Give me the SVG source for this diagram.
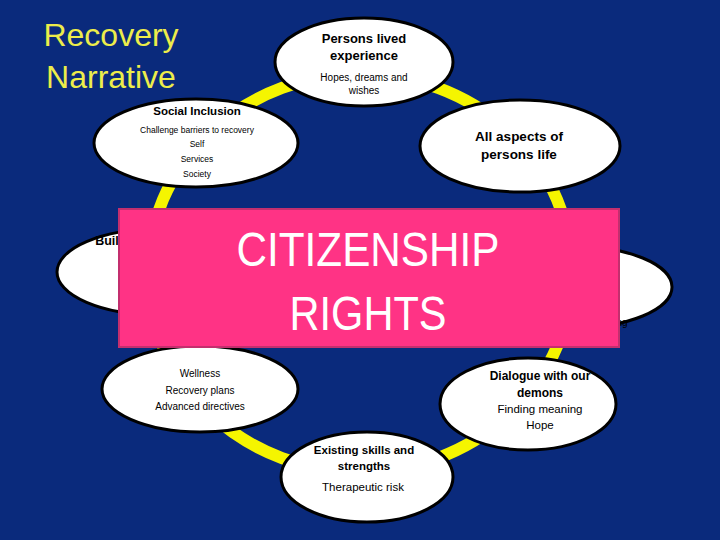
<svg xmlns="http://www.w3.org/2000/svg" width="720" height="540" viewBox="0 0 720 540">
<style>
.node{fill:#fff;stroke:#000;stroke-width:3}
text{font-family:"Liberation Sans",Arial,sans-serif;fill:#000;text-anchor:middle}
.b{font-weight:bold}
.title{fill:#EDED4A;font-size:32px}
.big{fill:#fff;font-size:49px}
</style>
<rect width="720" height="540" fill="#0A2A7C"/>
<g id="title">
<text class="title" x="111" y="46">Recovery</text>
<text class="title" x="111" y="88">Narrative</text>
</g>
<g id="connectors">
<ellipse cx="360" cy="273" rx="212" ry="199" fill="none" stroke="#F5F500" stroke-width="12"/>
</g>
<g id="node-building">
<ellipse class="node" cx="158" cy="272" rx="101" ry="43"/>
<text class="b" x="107" y="245" font-size="12.5">Buil</text>
</g>
<g id="node-right">
<ellipse class="node" cx="572" cy="287" rx="100" ry="41"/>
<text x="622" y="326" font-size="10">ng</text>
</g>
<g id="node-lived">
<ellipse class="node" cx="364" cy="62" rx="89" ry="44"/>
<text class="b" x="364" y="43" font-size="13">Persons lived</text>
<text class="b" x="364" y="60" font-size="13">experience</text>
<text x="364" y="81" font-size="10">Hopes, dreams and</text>
<text x="364" y="94" font-size="10">wishes</text>
</g>
<g id="node-aspects">
<ellipse class="node" cx="520" cy="146" rx="100" ry="46"/>
<text class="b" x="519" y="141" font-size="13.5">All aspects of</text>
<text class="b" x="519" y="159" font-size="13.5">persons life</text>
</g>
<g id="node-social">
<ellipse class="node" cx="196" cy="143" rx="102" ry="44"/>
<text class="b" x="197" y="115" font-size="11.5">Social Inclusion</text>
<text x="197" y="133" font-size="8.5">Challenge barriers to recovery</text>
<text x="197" y="147" font-size="8.5">Self</text>
<text x="197" y="162" font-size="8.5">Services</text>
<text x="197" y="177" font-size="8.5">Society</text>
</g>
<g id="node-wellness">
<ellipse class="node" cx="200" cy="389" rx="98" ry="43"/>
<text x="200" y="377" font-size="10">Wellness</text>
<text x="200" y="394" font-size="10">Recovery plans</text>
<text x="200" y="410" font-size="10">Advanced directives</text>
</g>
<g id="node-dialogue">
<ellipse class="node" cx="528" cy="404" rx="88" ry="46"/>
<text class="b" x="540" y="380" font-size="12">Dialogue with our</text>
<text class="b" x="540" y="397" font-size="12">demons</text>
<text x="540" y="413" font-size="11.5">Finding meaning</text>
<text x="540" y="429" font-size="11.5">Hope</text>
</g>
<g id="node-skills">
<ellipse class="node" cx="367" cy="477" rx="86" ry="45"/>
<text class="b" x="364" y="454" font-size="11.5">Existing skills and</text>
<text class="b" x="364" y="470" font-size="11.5">strengths</text>
<text x="363" y="491" font-size="11.5">Therapeutic risk</text>
</g>
<g id="citizenship">
<rect x="119" y="209" width="500" height="138" fill="#FF3385" stroke="#C32F6E" stroke-width="2"/>
<text class="big" x="368" y="266" textLength="263" lengthAdjust="spacingAndGlyphs">CITIZENSHIP</text>
<text class="big" x="368" y="330" textLength="157" lengthAdjust="spacingAndGlyphs">RIGHTS</text>
</g>
</svg>
